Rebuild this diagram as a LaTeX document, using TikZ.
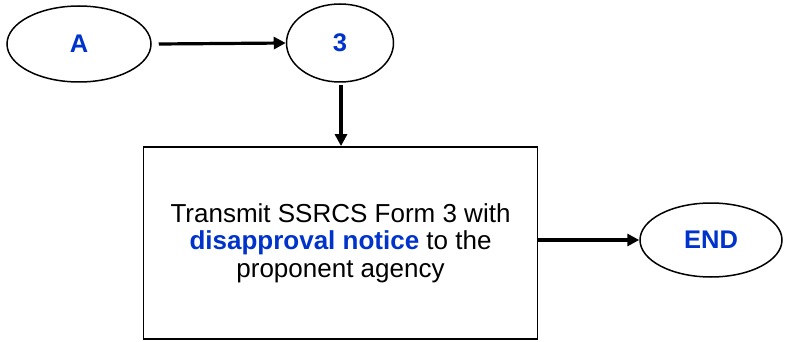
\documentclass[tikz,border=0pt]{standalone}
\usepackage{fontspec}
\setmainfont{Liberation Sans}
\usetikzlibrary{shapes.geometric,arrows.meta}
\definecolor{lblue}{HTML}{0033CC}
\begin{document}
\begin{tikzpicture}[x=1pt,y=-1pt,
  oval/.style={draw,line width=1.5pt,ellipse,inner sep=0pt,font=\bfseries\fontsize{25.5}{27}\selectfont,text=lblue},
  boxed/.style={draw,line width=1.8pt,inner sep=0pt,align=center,font=\fontsize{26}{27.5}\selectfont},
  conn/.style={line width=3.2pt,-{Triangle[length=12pt,width=12pt]}}]
\useasboundingbox (0,0) rectangle (787,342);
\node[oval,minimum width=144pt,minimum height=76pt] (a) at (79,44) {A};
\node[oval,minimum width=107pt,minimum height=78pt] (n3) at (340,43) {3};
\node[boxed,minimum width=394pt,minimum height=192pt] (box) at (340.5,243) {Transmit SSRCS Form 3 with\\{\bfseries\color{lblue}disapproval notice} to the\\proponent agency};
\node[oval,minimum width=142pt,minimum height=74pt] (end) at (711,240) {END};
\draw[conn] (a.east) ++(7,0) coordinate (s1) -- (n3.west);
\draw[conn] (341,85) coordinate (s2) -- (box.north -| s2);
\draw[conn] (box.east |- end) -- (end.west);
\end{tikzpicture}
\end{document}
